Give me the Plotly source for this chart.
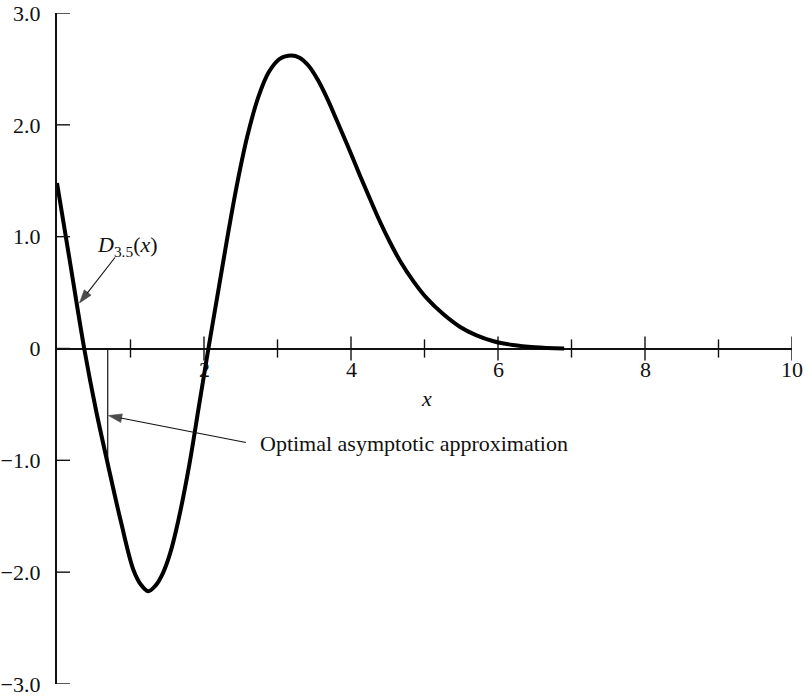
import plotly.graph_objects as go

# D_3.5(x)
x_vals = [0.0, 0.18, 0.37, 0.53, 0.69, 0.87, 1.04, 1.14, 1.24, 1.34, 1.44, 1.54,
          1.65, 1.80, 1.93, 2.06, 2.19, 2.32, 2.45, 2.59, 2.74, 2.88, 3.03, 3.19,
          3.30, 3.42, 3.55, 3.68, 3.80, 3.95, 4.12, 4.25, 4.39, 4.53, 4.67, 4.85,
          5.03, 5.25, 5.48, 5.70, 5.94, 6.20, 6.50, 6.90]
d_vals = [1.48, 0.76, 0.00, -0.55, -1.03, -1.55, -1.98, -2.11, -2.17, -2.12, -2.01, -1.83,
          -1.54, -1.04, -0.52, 0.00, 0.50, 1.00, 1.47, 1.90, 2.25, 2.47, 2.59, 2.62,
          2.60, 2.53, 2.40, 2.23, 2.05, 1.82, 1.55, 1.35, 1.14, 0.95, 0.78, 0.60,
          0.45, 0.31, 0.195, 0.12, 0.065, 0.032, 0.012, 0.0]

# truncation point of the optimal asymptotic approximation
opt_x = [0.69, 0.69]
opt_y = [0.0, -1.03]

# axis ticks
x_major = [2, 4, 6, 8, 10]
x_minor = [1, 3, 5, 7, 9]
x_labels = ["2", "4", "6", "8", "10"]
y_ticks = [3, 2, 1, 0, -1, -2, -3]
y_labels = ["3.0", "2.0", "1.0", "0", "\u22121.0", "\u22122.0", "\u22123.0"]

# pointer arrows: (tail, head) in data units
d_arrow_x = [0.789, 0.306]
d_arrow_y = [0.814, 0.407]
opt_arrow_x = [2.57, 0.70]
opt_arrow_y = [-0.84, -0.60]

FONT = "Liberation Serif"
INK = "#111111"
Y_TICK_LEN = 13 / 735  # inward tick length as a fraction of the x domain

fig = go.Figure()

# crossing tick marks on the x axis
fig.add_trace(go.Scatter(
    x=x_major, y=[0] * len(x_major), mode="markers",
    marker=dict(symbol="line-ns", size=17, line=dict(width=1.4, color=INK)),
    hoverinfo="skip", showlegend=False))
fig.add_trace(go.Scatter(
    x=x_minor, y=[0] * len(x_minor), mode="markers",
    marker=dict(symbol="line-ns", size=13, line=dict(width=1.4, color=INK)),
    hoverinfo="skip", showlegend=False))

# optimal asymptotic approximation (thin line)
fig.add_trace(go.Scatter(
    x=opt_x, y=opt_y, mode="lines",
    line=dict(color=INK, width=1.2), showlegend=False, hoverinfo="skip"))

# the function itself
fig.add_trace(go.Scatter(
    x=x_vals, y=d_vals, mode="lines",
    line=dict(color="black", width=4, shape="spline", smoothing=1.0),
    showlegend=False, hoverinfo="skip"))

# pointer arrows, head marker oriented along the segment
for ax_, ay_ in [(d_arrow_x, d_arrow_y), (opt_arrow_x, opt_arrow_y)]:
    fig.add_trace(go.Scatter(
        x=ax_, y=ay_, mode="lines+markers",
        line=dict(color=INK, width=1.1),
        marker=dict(symbol="arrow", size=[0, 14], angleref="previous",
                    color="black", line=dict(width=0.6, color="black")),
        showlegend=False, hoverinfo="skip"))

# inward ticks on the y axis
shapes = [dict(type="line", xref="x domain", yref="y", x0=0, x1=Y_TICK_LEN,
               y0=yv, y1=yv, line=dict(color=INK, width=1.4))
          for yv in y_ticks]

annotations = []
for xv, lab in zip(x_major, x_labels):
    annotations.append(dict(
        x=xv, y=0, xref="x", yref="y", text=lab, showarrow=False,
        yshift=-21, xanchor="center", yanchor="middle",
        font=dict(family=FONT, size=22, color=INK)))

# axis title
annotations.append(dict(
    x=5.03, y=-0.45, xref="x", yref="y", text="<i>x</i>", showarrow=False,
    xanchor="center", yanchor="middle", font=dict(family=FONT, size=22, color=INK)))

# curve label
annotations.append(dict(
    x=0.517, y=0.92, xref="x", yref="y",
    text="<i>D</i><sub>3.5</sub>(<i>x</i>)", showarrow=False,
    xanchor="left", yanchor="middle", font=dict(family=FONT, size=22, color=INK)))

# optimal approximation label
annotations.append(dict(
    x=2.735, y=-0.85, xref="x", yref="y",
    text="Optimal asymptotic approximation", showarrow=False,
    xanchor="left", yanchor="middle", font=dict(family=FONT, size=22, color=INK)))

fig.update_layout(
    width=805, height=697,
    margin=dict(l=57, r=13, t=13, b=13),
    paper_bgcolor="white", plot_bgcolor="white",
    annotations=annotations,
    shapes=shapes,
    xaxis=dict(range=[0, 10], showline=False, showgrid=False, zeroline=False,
               showticklabels=False, ticks="", automargin=False),
    yaxis=dict(range=[-3, 3], showline=True, linewidth=2.4, linecolor=INK,
               mirror=False, ticks="", tickvals=y_ticks, ticktext=y_labels,
               ticklabelstandoff=10, automargin=False,
               tickfont=dict(family=FONT, size=22, color=INK),
               showgrid=False, zeroline=True, zerolinecolor=INK,
               zerolinewidth=1.6),
)

fig.write_html("out.html")
